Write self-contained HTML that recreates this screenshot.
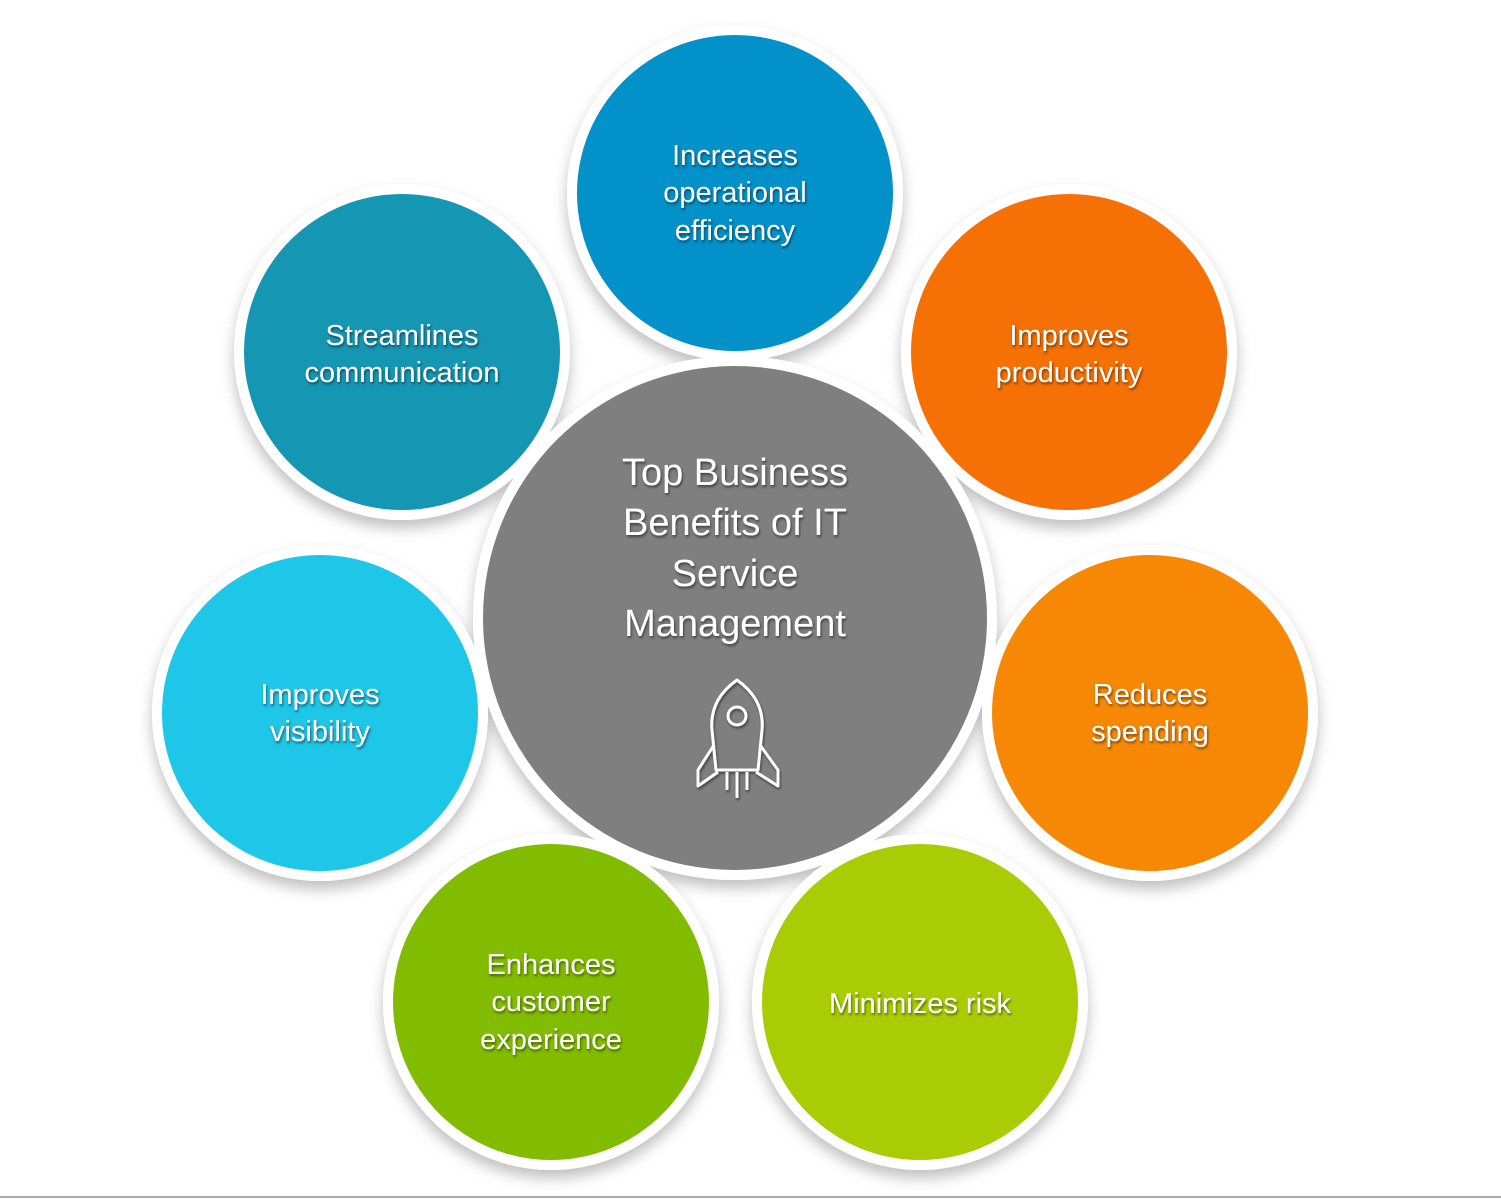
<!DOCTYPE html>
<html><head><meta charset="utf-8"><style>
html,body{margin:0;padding:0;background:#fff;}
svg{display:block}
text{font-family:"Liberation Sans",sans-serif;fill:#fff;text-anchor:middle}
</style></head><body>
<svg width="1501" height="1200" viewBox="0 0 1501 1200" xmlns="http://www.w3.org/2000/svg">
<defs>
<filter id="sh" x="-20%" y="-20%" width="140%" height="150%">
<feDropShadow dx="0" dy="8" stdDeviation="7" flood-color="#000" flood-opacity="0.25"/>
</filter>
<filter id="ts" x="-10%" y="-30%" width="120%" height="160%">
<feDropShadow dx="1" dy="2" stdDeviation="1.2" flood-color="#000" flood-opacity="0.5"/>
</filter>
</defs>
<rect width="1501" height="1200" fill="#fff"/>
<line x1="0" y1="1197" x2="1501" y2="1197" stroke="#aaa" stroke-width="2"/>

<g filter="url(#sh)">
<circle cx="735" cy="618" r="262" fill="#fff"/>
<circle cx="735" cy="193" r="168" fill="#fff"/>
<circle cx="402" cy="352" r="168" fill="#fff"/>
<circle cx="1069" cy="352" r="168" fill="#fff"/>
<circle cx="320" cy="713" r="168" fill="#fff"/>
<circle cx="1150" cy="713" r="168" fill="#fff"/>
<circle cx="551" cy="1002" r="168" fill="#fff"/>
<circle cx="920" cy="1002" r="168" fill="#fff"/>
</g>
<circle cx="735" cy="618" r="252" fill="#7f7f7f"/>
<circle cx="735" cy="193" r="158" fill="#0391c9"/>
<circle cx="402" cy="352" r="158" fill="#1596b3"/>
<circle cx="1069" cy="352" r="158" fill="#f57005"/>
<circle cx="320" cy="713" r="158" fill="#1ec6e8"/>
<circle cx="1150" cy="713" r="158" fill="#f68806"/>
<circle cx="551" cy="1002" r="158" fill="#82bc00"/>
<circle cx="920" cy="1002" r="158" fill="#aacc04"/>

<g filter="url(#ts)" font-size="29">
<text x="735" y="165">Increases</text>
<text x="735" y="202">operational</text>
<text x="735" y="240">efficiency</text>
<text x="402" y="345">Streamlines</text>
<text x="402" y="382">communication</text>
<text x="1069" y="345">Improves</text>
<text x="1069" y="382">productivity</text>
<text x="320" y="704">Improves</text>
<text x="320" y="741">visibility</text>
<text x="1150" y="704">Reduces</text>
<text x="1150" y="741">spending</text>
<text x="551" y="974">Enhances</text>
<text x="551" y="1011">customer</text>
<text x="551" y="1049">experience</text>
<text x="920" y="1013">Minimizes risk</text>
<g font-size="38">
<text x="735" y="485">Top Business</text>
<text x="735" y="535">Benefits of IT</text>
<text x="735" y="586">Service</text>
<text x="735" y="636">Management</text>
</g>
<g fill="none" stroke="#fff" stroke-width="3" stroke-linejoin="round">
<path d="M737 680 C720 692 710 708 712 730 L716 770 L758 770 L762 730 C764 708 754 692 737 680 Z"/>
<circle cx="737" cy="716" r="9"/>
<path d="M714 745 L698 770 L698 786 L718 772"/>
<path d="M760 745 L778 770 L778 786 L756 772"/>
<path d="M737 772 L737 798 M727 772 L727 790 M747 772 L747 790"/>
</g>
</g>
</svg>
</body></html>
